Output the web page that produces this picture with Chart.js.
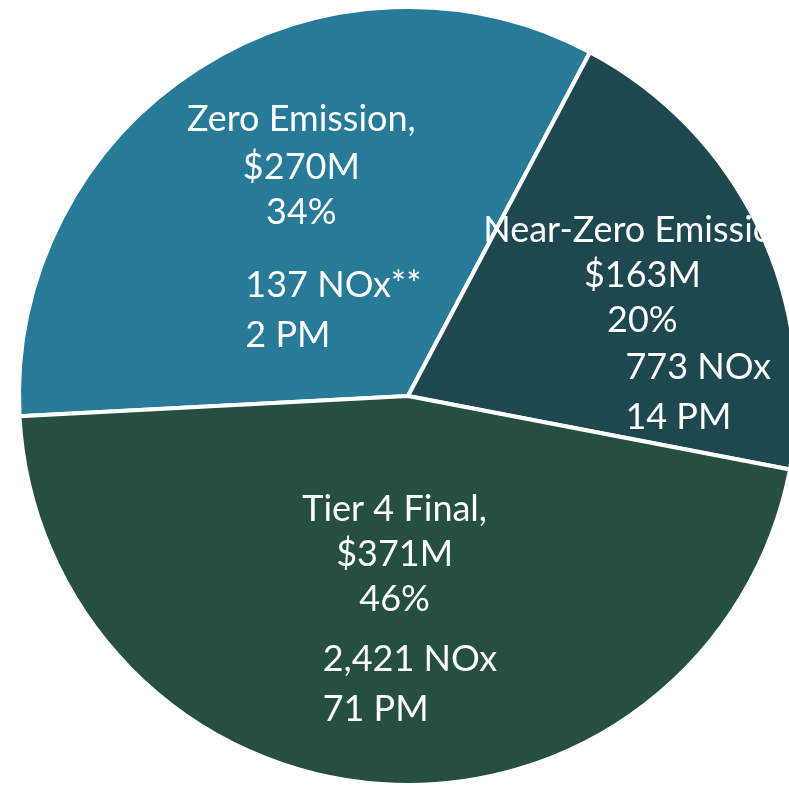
<!DOCTYPE html>
<html>
<head>
<meta charset="utf-8">
<script src="https://cdn.jsdelivr.net/npm/chart.js@4.4.1/dist/chart.umd.min.js"></script>
<style>
  html, body { margin: 0; padding: 0; background: #fff; overflow: hidden; }
  #wrap { width: 789px; height: 789px; overflow: hidden; }
  canvas { display: block; }
</style>
</head>
<body>
<div id="wrap"><canvas id="pieChart" width="800" height="790"></canvas></div>
<script>
// data
var categories = ["Zero Emission", "Near-Zero Emission", "Tier 4 Final"];
var costM = [270, 163, 371];
var noxValues = [137, 773, 2421];
var noxNotes = ["**", "", ""];
var pmValues = [2, 14, 71];
var colors = ["#287a99", "#1e4850", "#254f3f"];

var total = costM.reduce(function (a, b) { return a + b; }, 0);

// label placement relative to each slice's centre point
// [dx of centred block, dy of first 3 lines, dx of left block, dy of last 2 lines]
var labelLayout = [
  { cx: -2, cy: [-101, -53, -8], lx: -58, ly: [65, 115] },
  { cx: 59, cy: [-70, -25, 20], lx: 42, ly: [67, 117] },
  { cx: 0, cy: [-69, -24, 21], lx: -72, ly: [81, 131] }
];

var sliceLabels = {
  id: "sliceLabels",
  afterDatasetsDraw: function (chart) {
    var ctx = chart.ctx;
    var meta = chart.getDatasetMeta(0);
    ctx.save();
    ctx.fillStyle = "#ffffff";
    ctx.font = "36px Lato";
    ctx.textBaseline = "alphabetic";
    meta.data.forEach(function (arc, i) {
      var p = arc.tooltipPosition();
      var L = labelLayout[i];
      var top = [
        categories[i] + ",",
        "$" + costM[i] + "M",
        Math.round(costM[i] / total * 100) + "%"
      ];
      var bottom = [
        noxValues[i].toLocaleString("en-US") + " NOx" + noxNotes[i],
        pmValues[i] + " PM"
      ];
      ctx.textAlign = "center";
      top.forEach(function (t, k) { ctx.fillText(t, p.x + L.cx, p.y + L.cy[k]); });
      ctx.textAlign = "left";
      bottom.forEach(function (t, k) { ctx.fillText(t, p.x + L.lx, p.y + L.ly[k]); });
    });
    ctx.restore();
  }
};

var pie = new Chart(document.getElementById("pieChart").getContext("2d"), {
  type: "pie",
  data: {
    labels: categories,
    datasets: [{
      data: costM,
      backgroundColor: colors,
      borderColor: "#ffffff",
      borderWidth: 4
    }]
  },
  options: {
    responsive: false,
    animation: false,
    rotation: -93,
    layout: { padding: { top: 5, bottom: 3, left: 17, right: 1 } },
    plugins: {
      legend: { display: false },
      tooltip: { enabled: false }
    }
  },
  plugins: [sliceLabels]
});
</script>
</body>
</html>
